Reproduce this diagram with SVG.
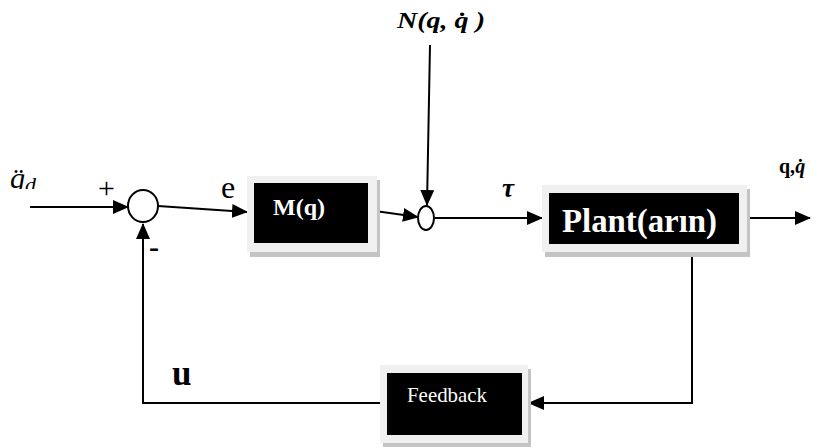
<svg xmlns="http://www.w3.org/2000/svg" width="825" height="448" viewBox="0 0 825 448">
  <defs>
    <marker id="arr" markerUnits="userSpaceOnUse" markerWidth="16" markerHeight="14" refX="15" refY="7" orient="auto">
      <path d="M0,0 L16,7 L0,14 z" fill="#000"/>
    </marker>
    <clipPath id="qclip"><rect x="0" y="160" width="60" height="29"/></clipPath>
  </defs>
  <style>
    .wire { fill: none; stroke: #000; stroke-width: 2; }
    .shadow { fill: #c4c4c4; }
    .frame { fill: #f0f0f0; }
    .inner { fill: #000; }
    .sum { fill: #fff; stroke: #000; stroke-width: 2; }
  </style>
  <rect width="825" height="448" fill="#fff"/>

  <g id="connectors">
    <line class="wire" x1="30" y1="207" x2="128" y2="207" marker-end="url(#arr)"/>
    <line class="wire" x1="158" y1="206" x2="247" y2="212" marker-end="url(#arr)"/>
    <line class="wire" x1="375" y1="211" x2="418" y2="217" marker-end="url(#arr)"/>
    <line class="wire" x1="430" y1="45" x2="427" y2="205" marker-end="url(#arr)"/>
    <line class="wire" x1="435" y1="218" x2="542" y2="218" marker-end="url(#arr)"/>
    <line class="wire" x1="749" y1="218" x2="810" y2="218" marker-end="url(#arr)"/>
    <polyline class="wire" points="692,244 692,403 529,403" marker-end="url(#arr)"/>
    <polyline class="wire" points="380,403 143,403 143,224" marker-end="url(#arr)"/>
  </g>

  <g id="sum1">
    <ellipse class="sum" cx="143" cy="206" rx="15" ry="16"/>
  </g>
  <g id="sum2">
    <ellipse class="sum" cx="426" cy="218" rx="8" ry="12"/>
  </g>

  <g id="mq">
    <rect class="shadow" x="250" y="180" width="130" height="77"/>
    <rect class="frame" x="247" y="176" width="130" height="76"/>
    <rect class="inner" x="254" y="183" width="114" height="60"/>
    <text x="273" y="215" font-family="'Liberation Serif', 'DejaVu Serif', serif" font-weight="bold" font-size="24" fill="#fff" textLength="52" lengthAdjust="spacingAndGlyphs">M(q)</text>
  </g>

  <g id="plant">
    <rect class="shadow" x="545" y="189" width="205" height="68"/>
    <rect class="frame" x="542" y="185" width="205" height="67"/>
    <rect class="inner" x="549" y="193" width="190" height="51"/>
    <text x="562" y="232" font-family="'Liberation Serif', 'DejaVu Serif', serif" font-weight="bold" font-size="33" fill="#fff" textLength="155" lengthAdjust="spacingAndGlyphs">Plant(arın)</text>
  </g>

  <g id="feedback">
    <rect class="shadow" x="383" y="369" width="148" height="78"/>
    <rect class="frame" x="380" y="365" width="148" height="78"/>
    <rect class="inner" x="387" y="373" width="135" height="62"/>
    <text x="407" y="402" font-family="'Liberation Serif', 'DejaVu Serif', serif" font-size="21" fill="#fff" textLength="80" lengthAdjust="spacingAndGlyphs">Feedback</text>
  </g>

  <g id="labels" font-family="'Liberation Serif', 'DejaVu Serif', serif" fill="#000">
    <text x="10" y="188" font-size="30" font-style="italic" clip-path="url(#qclip)">q̈<tspan font-size="22" dy="4">d</tspan></text>
    <text x="98" y="198" font-size="30">+</text>
    <text x="221" y="198" font-size="32">e</text>
    <text x="149" y="257" font-size="30" font-weight="bold">-</text>
    <text x="397" y="28" font-size="24" font-weight="bold" font-style="italic" textLength="88" lengthAdjust="spacingAndGlyphs">N(q, q̇ )</text>
    <text x="502" y="197" font-size="27" font-weight="bold" font-style="italic">τ</text>
    <text x="779" y="173" font-size="20" font-weight="bold">q,<tspan font-style="italic">q̇</tspan></text>
    <text x="172" y="385" font-size="35" font-weight="bold">u</text>
  </g>
</svg>
